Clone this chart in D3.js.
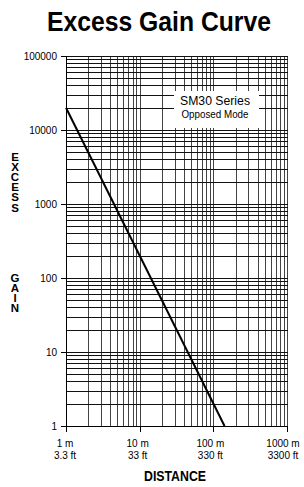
<!DOCTYPE html>
<html>
<head>
<meta charset="utf-8">
<script src="https://cdn.jsdelivr.net/npm/d3@7"></script>
<style>
  body { margin: 0; background: #fff; }
  svg { display: block; }
  .narrow { font-family: "Liberation Sans Narrow", "Arial Narrow", "Liberation Sans", Arial, sans-serif; }
  .ytitle { writing-mode: vertical-rl; text-orientation: upright; }
</style>
</head>
<body>
<script>
// values
var distanceDecades = [1, 10, 100, 1000];
var metreLabels = ["1 m", "10 m", "100 m", "1000 m"];
var feetLabels = ["3.3 ft", "33 ft", "330 ft", "3300 ft"];
var gainDecades = [1, 10, 100, 1000, 10000, 100000];
var gainLabels = ["1", "10", "100", "1000", "10000", "100000"];
var curveDistance = [1, 142];
var curveGain = [20000, 1];
var yTitleWords = ["EXCESS", "GAIN"];

(function () {
    var width = 304, height = 487;
    var plotLeft = 66, plotRight = 287, plotTop = 56, plotBottom = 426;

    var svg = d3.select("body").append("svg")
        .attr("width", width)
        .attr("height", height);

    var x = d3.scaleLog().domain([1, 1000]).range([plotLeft, plotRight]);
    var y = d3.scaleLog().domain([1, 100000]).range([plotBottom, plotTop]);

    function crisp(v) { return Math.round(v) + 0.5; }

    // minor + major grid values
    var xGrid = [], yGrid = [];
    distanceDecades.slice(0, -1).forEach(function (d) {
        for (var k = 1; k < 10; k++) xGrid.push(d * k);
    });
    xGrid.push(1000);
    gainDecades.slice(0, -1).forEach(function (d) {
        for (var k = 1; k < 10; k++) yGrid.push(d * k);
    });
    yGrid.push(100000);

    var grid = svg.append("g").attr("class", "grid");
    grid.selectAll("line.v").data(xGrid).enter().append("line")
        .attr("class", "v")
        .attr("x1", function (d) { return crisp(x(d)); })
        .attr("x2", function (d) { return crisp(x(d)); })
        .attr("y1", plotTop)
        .attr("y2", plotBottom)
        .attr("stroke", "#444")
        .attr("stroke-width", 1);
    grid.selectAll("line.h").data(yGrid).enter().append("line")
        .attr("class", "h")
        .attr("x1", plotLeft)
        .attr("x2", plotRight + 1)
        .attr("y1", function (d) { return crisp(y(d)); })
        .attr("y2", function (d) { return crisp(y(d)); })
        .attr("stroke", "#111")
        .attr("stroke-width", 1);

    // axis lines and ticks
    svg.append("line")
        .attr("x1", crisp(plotLeft)).attr("x2", crisp(plotLeft))
        .attr("y1", plotTop).attr("y2", plotBottom + 1)
        .attr("stroke", "#000");
    svg.append("line")
        .attr("x1", plotLeft).attr("x2", plotRight + 1)
        .attr("y1", crisp(plotBottom)).attr("y2", crisp(plotBottom))
        .attr("stroke", "#000");

    svg.selectAll("line.ytick").data(gainDecades).enter().append("line")
        .attr("class", "ytick")
        .attr("x1", plotLeft - 5).attr("x2", plotLeft)
        .attr("y1", function (d) { return crisp(y(d)); })
        .attr("y2", function (d) { return crisp(y(d)); })
        .attr("stroke", "#000");
    svg.selectAll("line.xtick").data(distanceDecades).enter().append("line")
        .attr("class", "xtick")
        .attr("x1", function (d) { return crisp(x(d)); })
        .attr("x2", function (d) { return crisp(x(d)); })
        .attr("y1", plotBottom)
        .attr("y2", plotBottom + 6)
        .attr("stroke", "#000");

    // tick labels
    svg.selectAll("text.ylab").data(gainDecades).enter().append("text")
        .attr("class", "ylab narrow")
        .attr("x", plotLeft - 9)
        .attr("y", function (d) { return y(d); })
        .attr("dy", "0.35em")
        .attr("text-anchor", "end")
        .attr("font-size", 10)
        .text(function (d, i) { return gainLabels[i]; });

    var xl = svg.selectAll("g.xlab").data(distanceDecades).enter().append("g")
        .attr("class", "xlab narrow")
        .attr("transform", function (d, i) { return "translate(" + (x(d) - 1 - i) + ",0)"; });
    xl.append("text")
        .attr("y", 447)
        .attr("text-anchor", "middle")
        .attr("font-size", 10)
        .text(function (d, i) { return metreLabels[i]; });
    xl.append("text")
        .attr("y", 459)
        .attr("text-anchor", "middle")
        .attr("font-size", 10)
        .text(function (d, i) { return feetLabels[i]; });

    // the curve
    var line = d3.line()
        .x(function (d) { return x(d[0]); })
        .y(function (d) { return y(d[1]); });
    svg.append("path")
        .datum(d3.zip(curveDistance, curveGain))
        .attr("d", line)
        .attr("fill", "none")
        .attr("stroke", "#000")
        .attr("stroke-width", 2);

    // label box
    svg.append("rect")
        .attr("x", 174).attr("y", 91)
        .attr("width", 85).attr("height", 37)
        .attr("fill", "#fff");
    svg.append("text")
        .attr("class", "narrow")
        .attr("x", 215).attr("y", 105)
        .attr("text-anchor", "middle")
        .attr("font-size", 12)
        .attr("textLength", 70)
        .attr("lengthAdjust", "spacingAndGlyphs")
        .text("SM30 Series");
    svg.append("text")
        .attr("class", "narrow")
        .attr("x", 215).attr("y", 118)
        .attr("text-anchor", "middle")
        .attr("font-size", 10)
        .attr("textLength", 67)
        .attr("lengthAdjust", "spacingAndGlyphs")
        .text("Opposed Mode");

    // titles
    svg.append("text")
        .attr("class", "narrow")
        .attr("x", 159).attr("y", 31)
        .attr("text-anchor", "middle")
        .attr("font-size", 28)
        .attr("font-weight", "bold")
        .attr("textLength", 224)
        .attr("lengthAdjust", "spacingAndGlyphs")
        .text("Excess Gain Curve");

    svg.append("text")
        .attr("class", "narrow")
        .attr("x", 175).attr("y", 481)
        .attr("text-anchor", "middle")
        .attr("font-size", 15)
        .attr("font-weight", "bold")
        .attr("textLength", 62)
        .attr("lengthAdjust", "spacingAndGlyphs")
        .text("DISTANCE");

    // vertical stacked axis title, one text per word
    var wordTop = [151, 272];
    svg.selectAll("text.ytitle").data(yTitleWords).enter().append("text")
        .attr("class", "ytitle narrow")
        .attr("x", 15)
        .attr("y", function (d, i) { return wordTop[i]; })
        .attr("font-size", 11.5)
        .attr("font-weight", "bold")
        .attr("letter-spacing", -1.9)
        .text(function (d) { return d; });
})();
</script>
</body>
</html>
